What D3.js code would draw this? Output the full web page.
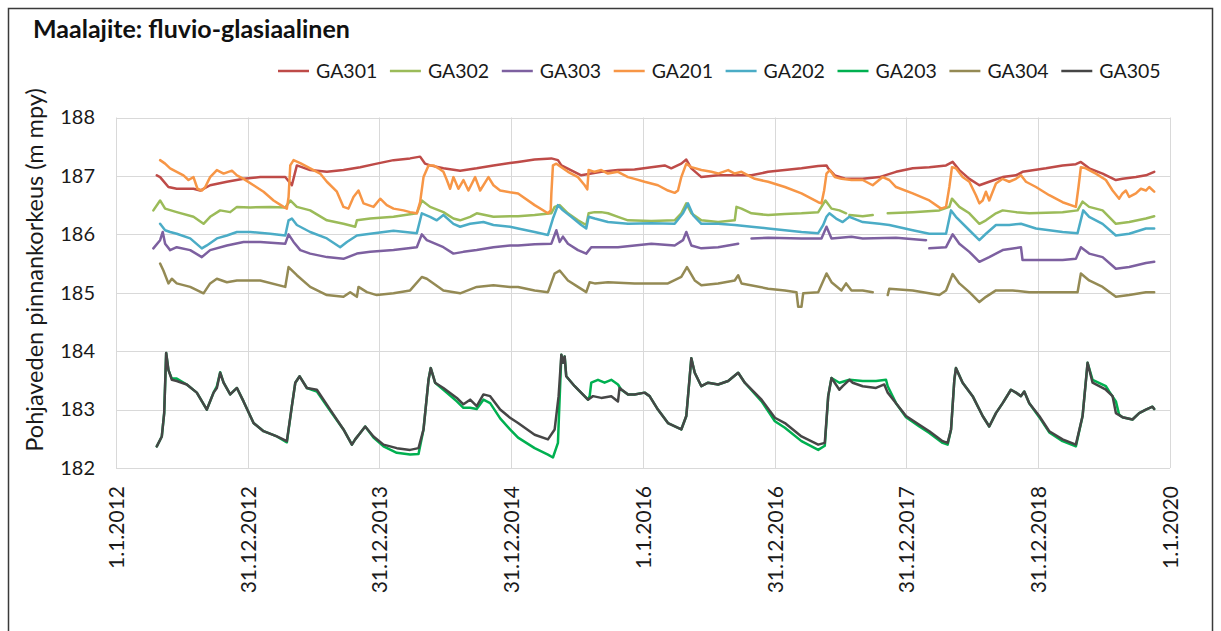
<!DOCTYPE html>
<html>
<head>
<meta charset="utf-8">
<script src="https://cdn.jsdelivr.net/npm/d3@7"></script>
<style>
  body { margin: 0; background: #fff; }
  text { font-family: Lato, "Open Sans", sans-serif; }
</style>
</head>
<body>
<svg id="chart" width="1221" height="631"></svg>
<script>
// Groundwater level observations, fluvio-glacial soil wells.
// Times are decimal years, levels in metres (m mpy). null = break in record.
const seriesNames = ["GA301", "GA302", "GA303", "GA201", "GA202", "GA203", "GA304", "GA305"];
const seriesColors = ["#be4b48", "#9bbb59", "#7d60a0", "#f79646", "#4bacc6", "#00b050", "#948a54", "#464646"];
const yTicks = [182, 183, 184, 185, 186, 187, 188];
const xTickLabels = ["1.1.2012", "31.12.2012", "31.12.2013", "31.12.2014", "1.1.2016", "31.12.2016", "31.12.2017", "31.12.2018", "1.1.2020"];

const GA301 = [[2012.309,187.01],[2012.334,186.98],[2012.397,186.81],[2012.460,186.78],[2012.587,186.78],[2012.638,186.75],[2012.713,186.84],[2012.840,186.90],[2012.966,186.95],[2013.093,186.98],[2013.283,186.98],[2013.333,186.84],[2013.371,187.18],[2013.472,187.10],[2013.599,187.07],[2013.725,187.10],[2013.852,187.15],[2013.978,187.21],[2014.105,187.27],[2014.231,187.30],[2014.307,187.33],[2014.345,187.21],[2014.383,187.18],[2014.484,187.13],[2014.611,187.09],[2014.737,187.13],[2014.864,187.18],[2014.990,187.22],[2015.051,187.24],[2015.177,187.28],[2015.304,187.30],[2015.354,187.27],[2015.380,187.18],[2015.531,187.01],[2015.683,187.07],[2015.810,187.10],[2015.936,187.11],[2016.063,187.15],[2016.164,187.18],[2016.214,187.13],[2016.290,187.21],[2016.328,187.28],[2016.366,187.13],[2016.442,186.98],[2016.569,187.01],[2016.695,187.01],[2016.822,187.01],[2016.948,187.07],[2017.075,187.10],[2017.201,187.13],[2017.328,187.17],[2017.391,187.18],[2017.404,187.13],[2017.454,187.01],[2017.540,186.95],[2017.666,186.95],[2017.793,186.98],[2017.919,187.07],[2018.046,187.13],[2018.172,187.15],[2018.299,187.18],[2018.349,187.24],[2018.400,187.10],[2018.476,186.95],[2018.552,186.84],[2018.627,186.90],[2018.729,186.98],[2018.830,187.01],[2018.880,187.07],[2019.058,187.13],[2019.184,187.18],[2019.285,187.20],[2019.323,187.24],[2019.386,187.13],[2019.488,187.04],[2019.589,186.93],[2019.639,186.95],[2019.741,186.98],[2019.817,187.01],[2019.880,187.07]];

const GA302 = [[2012.283,186.41],[2012.334,186.58],[2012.372,186.44],[2012.460,186.38],[2012.587,186.30],[2012.663,186.18],[2012.713,186.30],[2012.789,186.41],[2012.865,186.38],[2012.916,186.47],[2013.017,186.46],[2013.169,186.47],[2013.283,186.46],[2013.321,186.58],[2013.371,186.47],[2013.472,186.41],[2013.599,186.24],[2013.725,186.18],[2013.814,186.13],[2013.827,186.24],[2013.928,186.27],[2014.105,186.30],[2014.282,186.36],[2014.320,186.58],[2014.383,186.47],[2014.484,186.38],[2014.560,186.27],[2014.611,186.24],[2014.687,186.30],[2014.737,186.36],[2014.864,186.30],[2014.990,186.31],[2015.051,186.31],[2015.177,186.33],[2015.304,186.36],[2015.329,186.47],[2015.367,186.50],[2015.430,186.36],[2015.506,186.24],[2015.569,186.16],[2015.587,186.36],[2015.633,186.38],[2015.683,186.38],[2015.734,186.36],[2015.810,186.30],[2015.886,186.24],[2016.063,186.23],[2016.240,186.24],[2016.290,186.36],[2016.328,186.53],[2016.366,186.36],[2016.442,186.24],[2016.569,186.21],[2016.695,186.24],[2016.708,186.47],[2016.746,186.44],[2016.822,186.36],[2016.948,186.33],[2017.075,186.35],[2017.201,186.36],[2017.328,186.38],[2017.383,186.58],[2017.429,186.44],[2017.489,186.41],[2017.540,186.36],null,[2017.565,186.33],[2017.666,186.31],[2017.742,186.33],null,[2017.856,186.36],[2018.046,186.38],[2018.248,186.41],[2018.324,186.47],[2018.344,186.61],[2018.400,186.47],[2018.476,186.36],[2018.552,186.18],[2018.602,186.24],[2018.678,186.36],[2018.729,186.41],[2018.830,186.38],[2018.931,186.36],[2019.184,186.38],[2019.298,186.41],[2019.336,186.56],[2019.386,186.47],[2019.488,186.41],[2019.589,186.18],[2019.690,186.21],[2019.817,186.27],[2019.880,186.31]];

const GA303 = [[2012.283,185.76],[2012.334,185.90],[2012.354,186.04],[2012.372,185.84],[2012.410,185.73],[2012.460,185.78],[2012.562,185.73],[2012.650,185.61],[2012.713,185.73],[2012.840,185.81],[2012.966,185.87],[2013.093,185.87],[2013.283,185.84],[2013.308,186.00],[2013.346,185.87],[2013.397,185.73],[2013.472,185.67],[2013.599,185.61],[2013.725,185.58],[2013.827,185.67],[2013.928,185.70],[2014.105,185.73],[2014.282,185.78],[2014.320,186.00],[2014.358,185.90],[2014.484,185.78],[2014.560,185.67],[2014.636,185.70],[2014.737,185.73],[2014.864,185.78],[2014.990,185.81],[2015.051,185.81],[2015.177,185.83],[2015.304,185.84],[2015.342,186.07],[2015.367,185.87],[2015.392,185.96],[2015.430,185.84],[2015.506,185.73],[2015.569,185.67],[2015.607,185.78],[2015.683,185.78],[2015.810,185.78],[2015.936,185.81],[2016.063,185.84],[2016.240,185.81],[2016.303,185.90],[2016.328,186.04],[2016.366,185.81],[2016.442,185.76],[2016.569,185.78],[2016.721,185.84],null,[2016.822,185.93],[2016.948,185.94],[2017.201,185.93],[2017.353,185.93],[2017.391,186.13],[2017.429,185.93],[2017.581,185.96],[2017.666,185.93],[2017.919,185.94],[2018.147,185.90],null,[2018.172,185.76],[2018.299,185.78],[2018.349,186.00],[2018.400,185.84],[2018.476,185.70],[2018.552,185.53],[2018.627,185.61],[2018.729,185.73],[2018.868,185.78],[2018.880,185.56],[2018.982,185.56],[2019.184,185.56],[2019.285,185.58],[2019.323,185.78],[2019.386,185.67],[2019.488,185.61],[2019.589,185.41],[2019.690,185.44],[2019.817,185.51],[2019.880,185.53]];

const GA201 = [[2012.334,187.27],[2012.372,187.21],[2012.410,187.13],[2012.460,187.07],[2012.511,187.01],[2012.549,186.93],[2012.587,186.98],[2012.617,186.78],[2012.650,186.75],[2012.676,186.81],[2012.713,186.98],[2012.764,187.10],[2012.815,187.04],[2012.878,187.09],[2012.916,187.01],[2012.966,186.95],[2013.042,186.84],[2013.118,186.73],[2013.194,186.58],[2013.270,186.47],[2013.295,186.44],[2013.308,186.64],[2013.321,187.18],[2013.346,187.27],[2013.397,187.22],[2013.472,187.13],[2013.548,187.04],[2013.599,186.90],[2013.675,186.73],[2013.725,186.47],[2013.763,186.44],[2013.801,186.64],[2013.839,186.75],[2013.877,186.53],[2013.953,186.47],[2014.004,186.61],[2014.054,186.50],[2014.105,186.44],[2014.181,186.41],[2014.231,186.38],[2014.282,186.36],[2014.307,186.55],[2014.333,186.98],[2014.371,187.18],[2014.409,187.18],[2014.447,187.13],[2014.484,187.07],[2014.510,186.93],[2014.535,186.78],[2014.560,186.98],[2014.598,186.78],[2014.636,186.93],[2014.674,186.75],[2014.725,186.98],[2014.763,186.75],[2014.826,186.98],[2014.864,186.84],[2014.915,186.75],[2014.990,186.72],[2015.051,186.70],[2015.177,186.50],[2015.278,186.36],[2015.299,186.41],[2015.304,186.70],[2015.316,187.18],[2015.342,187.21],[2015.380,187.15],[2015.430,187.07],[2015.506,186.98],[2015.557,186.84],[2015.577,186.77],[2015.587,187.10],[2015.633,187.07],[2015.683,187.10],[2015.734,187.04],[2015.810,187.07],[2015.886,186.98],[2015.936,186.95],[2016.012,186.90],[2016.113,186.84],[2016.189,186.75],[2016.240,186.71],[2016.265,186.75],[2016.290,186.98],[2016.328,187.21],[2016.366,187.15],[2016.442,187.10],[2016.518,187.07],[2016.569,187.04],[2016.645,187.10],[2016.695,187.04],[2016.746,187.07],[2016.796,187.01],[2016.847,186.95],[2016.948,186.90],[2017.075,186.81],[2017.201,186.70],[2017.328,186.55],[2017.353,186.53],[2017.373,186.75],[2017.391,187.04],[2017.416,187.10],[2017.454,186.98],[2017.505,186.95],[2017.581,186.93],[2017.666,186.93],[2017.742,186.84],[2017.818,186.98],[2017.868,186.93],[2017.919,186.81],[2018.046,186.70],[2018.172,186.58],[2018.261,186.44],[2018.299,186.47],[2018.324,186.81],[2018.344,187.15],[2018.374,187.13],[2018.425,186.98],[2018.476,186.90],[2018.526,186.67],[2018.552,186.53],[2018.577,186.58],[2018.602,186.73],[2018.627,186.58],[2018.678,186.87],[2018.729,186.95],[2018.779,186.90],[2018.830,186.95],[2018.868,187.01],[2018.906,186.90],[2018.982,186.81],[2019.083,186.67],[2019.184,186.55],[2019.285,186.47],[2019.305,186.81],[2019.323,187.15],[2019.361,187.13],[2019.437,187.04],[2019.513,186.93],[2019.564,186.75],[2019.614,186.61],[2019.639,186.70],[2019.665,186.75],[2019.690,186.64],[2019.741,186.70],[2019.779,186.78],[2019.817,186.75],[2019.842,186.81],[2019.880,186.73]];

const GA202 = [[2012.334,186.18],[2012.372,186.07],[2012.410,186.04],[2012.460,186.01],[2012.562,185.93],[2012.650,185.76],[2012.688,185.81],[2012.764,185.93],[2012.840,185.98],[2012.916,186.04],[2013.017,186.04],[2013.169,186.01],[2013.283,185.98],[2013.308,186.24],[2013.333,186.27],[2013.371,186.16],[2013.472,186.04],[2013.599,185.93],[2013.700,185.78],[2013.751,185.87],[2013.827,185.98],[2013.928,186.01],[2014.105,186.06],[2014.282,186.02],[2014.320,186.36],[2014.383,186.30],[2014.434,186.24],[2014.484,186.33],[2014.560,186.18],[2014.611,186.13],[2014.687,186.18],[2014.788,186.21],[2014.864,186.16],[2014.990,186.13],[2015.051,186.10],[2015.177,186.04],[2015.278,185.99],[2015.316,186.27],[2015.354,186.50],[2015.392,186.41],[2015.455,186.30],[2015.531,186.16],[2015.569,186.10],[2015.587,186.30],[2015.633,186.27],[2015.734,186.21],[2015.886,186.18],[2016.063,186.19],[2016.240,186.18],[2016.303,186.36],[2016.341,186.53],[2016.379,186.33],[2016.442,186.18],[2016.569,186.18],[2016.695,186.16],[2016.822,186.13],[2016.948,186.10],[2017.075,186.07],[2017.201,186.04],[2017.328,186.02],[2017.366,186.16],[2017.391,186.30],[2017.413,186.36],[2017.464,186.27],[2017.514,186.21],[2017.565,186.30],[2017.666,186.21],[2017.793,186.18],[2017.868,186.16],[2018.046,186.07],[2018.172,186.01],[2018.299,186.01],[2018.337,186.41],[2018.374,186.30],[2018.476,186.07],[2018.552,185.90],[2018.602,186.01],[2018.678,186.16],[2018.779,186.16],[2018.868,186.18],[2018.982,186.10],[2019.184,186.04],[2019.298,186.02],[2019.341,186.41],[2019.386,186.30],[2019.488,186.18],[2019.589,185.98],[2019.690,186.01],[2019.817,186.10],[2019.880,186.10]];

const GA203 = [[2012.309,182.37],[2012.347,182.54],[2012.365,182.94],[2012.380,183.97],[2012.397,183.68],[2012.423,183.53],[2012.460,183.53],[2012.536,183.43],[2012.612,183.29],[2012.688,183.00],[2012.739,183.29],[2012.764,183.40],[2012.789,183.64],[2012.815,183.46],[2012.865,183.26],[2012.916,183.37],[2012.966,183.14],[2013.042,182.77],[2013.118,182.63],[2013.219,182.54],[2013.295,182.44],[2013.333,183.06],[2013.359,183.46],[2013.392,183.57],[2013.447,183.37],[2013.523,183.31],[2013.624,182.98],[2013.725,182.66],[2013.789,182.40],[2013.814,182.49],[2013.852,182.60],[2013.890,182.71],[2013.953,182.52],[2014.029,182.37],[2014.130,182.26],[2014.231,182.23],[2014.295,182.24],[2014.333,182.66],[2014.371,183.51],[2014.388,183.71],[2014.421,183.46],[2014.484,183.34],[2014.586,183.14],[2014.636,183.03],[2014.687,183.03],[2014.737,183.01],[2014.788,183.17],[2014.839,183.11],[2014.915,182.85],[2014.990,182.66],[2015.051,182.52],[2015.177,182.34],[2015.278,182.23],[2015.316,182.18],[2015.354,182.43],[2015.362,182.91],[2015.380,183.94],[2015.392,183.80],[2015.405,183.91],[2015.417,183.57],[2015.481,183.40],[2015.582,183.17],[2015.595,183.23],[2015.607,183.46],[2015.658,183.51],[2015.708,183.46],[2015.759,183.51],[2015.810,183.43],[2015.835,183.34],[2015.886,183.26],[2015.936,183.26],[2016.012,183.29],[2016.050,183.23],[2016.113,183.00],[2016.189,182.77],[2016.290,182.66],[2016.328,182.89],[2016.354,183.57],[2016.366,183.88],[2016.392,183.63],[2016.442,183.40],[2016.493,183.46],[2016.569,183.43],[2016.645,183.49],[2016.721,183.63],[2016.771,183.46],[2016.898,183.14],[2016.999,182.80],[2017.075,182.69],[2017.201,182.46],[2017.328,182.31],[2017.378,182.38],[2017.404,183.23],[2017.429,183.54],[2017.489,183.46],[2017.565,183.51],[2017.666,183.49],[2017.767,183.49],[2017.843,183.51],[2017.856,183.40],[2017.919,183.11],[2017.995,182.87],[2018.096,182.71],[2018.172,182.60],[2018.273,182.43],[2018.311,182.40],[2018.337,182.66],[2018.362,183.51],[2018.374,183.71],[2018.425,183.46],[2018.501,183.23],[2018.577,182.89],[2018.627,182.71],[2018.678,182.94],[2018.729,183.11],[2018.792,183.34],[2018.830,183.29],[2018.868,183.23],[2018.893,183.31],[2018.931,183.11],[2019.007,182.87],[2019.083,182.61],[2019.184,182.46],[2019.285,182.37],[2019.336,182.89],[2019.374,183.80],[2019.412,183.51],[2019.513,183.40],[2019.538,183.31],[2019.589,183.14],[2019.614,182.91],[2019.639,182.87],[2019.715,182.83],[2019.766,182.94],[2019.817,183.00],[2019.867,183.05],[2019.880,183.01]];

const GA304 = [[2012.334,185.50],[2012.359,185.38],[2012.397,185.16],[2012.423,185.24],[2012.460,185.16],[2012.562,185.10],[2012.663,184.99],[2012.713,185.16],[2012.764,185.24],[2012.840,185.18],[2012.916,185.21],[2013.093,185.21],[2013.283,185.10],[2013.308,185.44],[2013.371,185.30],[2013.472,185.10],[2013.599,184.96],[2013.725,184.93],[2013.776,185.01],[2013.827,184.93],[2013.839,185.10],[2013.903,185.01],[2013.978,184.96],[2014.105,184.99],[2014.231,185.04],[2014.320,185.27],[2014.358,185.24],[2014.409,185.16],[2014.484,185.04],[2014.611,184.99],[2014.737,185.10],[2014.864,185.13],[2014.990,185.10],[2015.051,185.10],[2015.177,185.04],[2015.278,185.01],[2015.329,185.33],[2015.367,185.38],[2015.430,185.21],[2015.506,185.10],[2015.569,185.01],[2015.595,185.18],[2015.633,185.16],[2015.734,185.18],[2015.936,185.16],[2016.189,185.16],[2016.290,185.27],[2016.333,185.44],[2016.392,185.21],[2016.442,185.13],[2016.569,185.16],[2016.695,185.21],[2016.721,185.30],[2016.746,185.16],[2016.948,185.07],[2017.075,185.04],[2017.163,185.01],[2017.176,184.76],[2017.201,184.76],[2017.214,184.99],[2017.328,185.01],[2017.391,185.33],[2017.429,185.18],[2017.505,185.04],[2017.540,185.16],[2017.581,185.04],[2017.666,185.04],[2017.742,185.01],null,[2017.856,184.96],[2017.868,185.07],[2018.046,185.04],[2018.248,184.96],[2018.299,185.04],[2018.349,185.32],[2018.400,185.16],[2018.476,185.01],[2018.552,184.84],[2018.602,184.93],[2018.678,185.04],[2018.805,185.04],[2018.931,185.01],[2019.184,185.01],[2019.298,185.01],[2019.323,185.33],[2019.386,185.21],[2019.488,185.10],[2019.589,184.93],[2019.690,184.96],[2019.817,185.01],[2019.880,185.01]];

const GA305 = [[2012.309,182.37],[2012.347,182.54],[2012.365,182.94],[2012.380,183.97],[2012.397,183.68],[2012.423,183.51],[2012.460,183.49],[2012.536,183.43],[2012.612,183.29],[2012.688,183.00],[2012.739,183.29],[2012.764,183.37],[2012.789,183.63],[2012.815,183.46],[2012.865,183.26],[2012.916,183.37],[2012.966,183.14],[2013.042,182.77],[2013.118,182.63],[2013.219,182.54],[2013.295,182.46],[2013.333,183.06],[2013.359,183.46],[2013.392,183.57],[2013.447,183.37],[2013.523,183.34],[2013.624,183.00],[2013.725,182.66],[2013.789,182.40],[2013.814,182.49],[2013.852,182.60],[2013.890,182.71],[2013.953,182.54],[2014.029,182.40],[2014.130,182.34],[2014.231,182.31],[2014.295,182.34],[2014.333,182.66],[2014.371,183.51],[2014.388,183.71],[2014.421,183.46],[2014.484,183.37],[2014.586,183.20],[2014.636,183.09],[2014.687,183.17],[2014.737,183.06],[2014.788,183.26],[2014.839,183.23],[2014.915,183.00],[2014.990,182.86],[2015.051,182.77],[2015.177,182.57],[2015.278,182.49],[2015.329,182.66],[2015.359,183.23],[2015.380,183.94],[2015.392,183.80],[2015.405,183.91],[2015.417,183.57],[2015.481,183.40],[2015.582,183.17],[2015.620,183.23],[2015.683,183.20],[2015.759,183.23],[2015.810,183.14],[2015.822,183.37],[2015.886,183.26],[2015.936,183.26],[2016.012,183.29],[2016.050,183.23],[2016.113,183.00],[2016.189,182.77],[2016.290,182.66],[2016.328,182.89],[2016.354,183.57],[2016.366,183.88],[2016.392,183.63],[2016.442,183.40],[2016.493,183.46],[2016.569,183.43],[2016.645,183.49],[2016.721,183.63],[2016.771,183.46],[2016.898,183.17],[2016.999,182.86],[2017.075,182.77],[2017.201,182.54],[2017.328,182.40],[2017.378,182.43],[2017.404,183.23],[2017.429,183.54],[2017.489,183.34],[2017.514,183.40],[2017.565,183.51],[2017.590,183.46],[2017.666,183.40],[2017.767,183.37],[2017.830,183.43],[2017.856,183.29],[2017.919,183.11],[2017.995,182.89],[2018.096,182.74],[2018.172,182.63],[2018.273,182.46],[2018.311,182.43],[2018.337,182.66],[2018.362,183.51],[2018.374,183.71],[2018.425,183.46],[2018.501,183.23],[2018.577,182.89],[2018.627,182.71],[2018.678,182.94],[2018.729,183.11],[2018.792,183.34],[2018.830,183.29],[2018.868,183.23],[2018.893,183.31],[2018.931,183.11],[2019.007,182.89],[2019.083,182.63],[2019.184,182.49],[2019.285,182.40],[2019.336,182.89],[2019.374,183.80],[2019.412,183.46],[2019.513,183.34],[2019.564,183.23],[2019.589,182.94],[2019.639,182.87],[2019.715,182.83],[2019.766,182.94],[2019.817,183.00],[2019.867,183.05],[2019.880,183.01]];

const seriesData = [GA301, GA302, GA303, GA201, GA202, GA203, GA304, GA305];

// ---- helpers ----
function fromDecimalYear(t) {
  const y = Math.floor(t);
  const a = Date.UTC(y, 0, 1), b = Date.UTC(y + 1, 0, 1);
  return new Date(a + (t - y) * (b - a));
}
function parseDMY(s) {
  const [d, m, y] = s.split(".").map(Number);
  return new Date(Date.UTC(y, m - 1, d));
}

// ---- layout ----
const W = 1221, H = 631;
const plot = { left: 116, right: 1170, top: 117.5, bottom: 468 };

const svg = d3.select("#chart");
svg.append("rect").attr("width", W).attr("height", H).attr("fill", "#fff");
svg.append("rect")
  .attr("x", 8.5).attr("y", 8.5).attr("width", 1204).attr("height", 640)
  .attr("fill", "none").attr("stroke", "#3a3a3a").attr("stroke-width", 1.5);

const tickDates = xTickLabels.map(parseDMY);
const x = d3.scaleUtc()
  .domain([tickDates[0], tickDates[tickDates.length - 1]])
  .range([plot.left, plot.right]);
const y = d3.scaleLinear()
  .domain([d3.min(yTicks), d3.max(yTicks)])
  .range([plot.bottom, plot.top]);

// gridlines
const grid = svg.append("g").attr("stroke", "#d9d9d9").attr("stroke-width", 1);
grid.selectAll("line.h").data(yTicks).join("line")
  .attr("x1", plot.left).attr("x2", plot.right)
  .attr("y1", d => Math.round(y(d)) + 0.5).attr("y2", d => Math.round(y(d)) + 0.5);
grid.selectAll("line.v").data(tickDates).join("line")
  .attr("x1", d => Math.round(x(d)) + 0.5).attr("x2", d => Math.round(x(d)) + 0.5)
  .attr("y1", plot.top).attr("y2", plot.bottom);

// y axis labels
const yAxis = svg.append("g")
  .attr("transform", `translate(${plot.left},0)`)
  .call(d3.axisLeft(y).tickValues(yTicks).tickSize(0).tickPadding(21).tickFormat(d3.format("d")));
yAxis.select(".domain").remove();
yAxis.selectAll("text").attr("font-size", 20).attr("fill", "#1a1a1a")
  .style("font-family", "Lato, sans-serif");

// x axis labels (vertical)
const xAxis = svg.append("g")
  .attr("transform", `translate(0,${plot.bottom})`)
  .call(d3.axisBottom(x).tickValues(tickDates).tickSize(0).tickFormat((d, i) => xTickLabels[i]));
xAxis.select(".domain").remove();
xAxis.selectAll("text")
  .attr("font-size", 21).attr("fill", "#1a1a1a")
  .style("font-family", "Lato, sans-serif")
  .attr("text-anchor", "end")
  .attr("transform", "rotate(-90)")
  .attr("x", -18).attr("y", 0).attr("dy", "0.36em");

// series lines
const line = d3.line()
  .defined(d => d !== null)
  .x(d => x(fromDecimalYear(d[0])))
  .y(d => y(d[1]))
  .curve(d3.curveLinear);

const lines = svg.append("g").attr("fill", "none")
  .attr("stroke-width", 2.5).attr("stroke-linejoin", "round").attr("stroke-linecap", "round");
seriesData.forEach((data, i) => {
  lines.append("path").datum(data).attr("d", line).attr("stroke", seriesColors[i]);
});

// title
svg.append("text")
  .attr("x", 33).attr("y", 38)
  .attr("font-size", 25).attr("font-weight", "bold").attr("fill", "#111")
  .text("Maalajite: fluvio-glasiaalinen");

// y axis title
svg.append("text")
  .attr("transform", "translate(43,270) rotate(-90)")
  .attr("text-anchor", "middle")
  .attr("font-size", 23.5).attr("fill", "#1a1a1a")
  .text("Pohjaveden pinnankorkeus (m mpy)");

// legend
const legendStart = 278, legendStep = 111.9, legendY = 71;
const legend = svg.append("g");
seriesNames.forEach((name, i) => {
  const lx = legendStart + i * legendStep;
  legend.append("line")
    .attr("x1", lx).attr("x2", lx + 31).attr("y1", legendY).attr("y2", legendY)
    .attr("stroke", seriesColors[i]).attr("stroke-width", 2.5);
  legend.append("text")
    .attr("x", lx + 38).attr("y", legendY).attr("dy", "0.36em")
    .attr("font-size", 19.5).attr("fill", "#1a1a1a")
    .text(name);
});
</script>
</body>
</html>
